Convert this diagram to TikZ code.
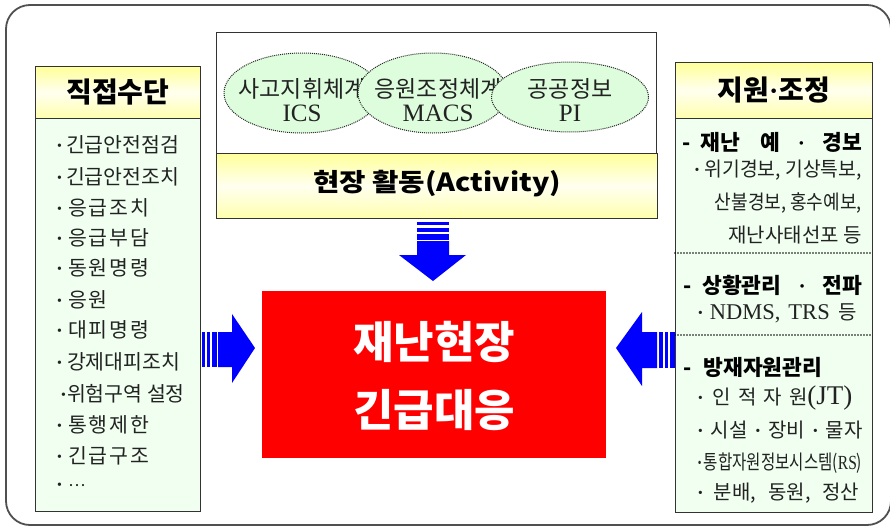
\documentclass[tikz,border=0pt]{standalone}
\usepackage{fontspec}
\usepackage{graphicx}
\setmainfont{Liberation Serif}
\newfontfamily\kr{Noto Sans CJK KR}
\usetikzlibrary{shapes.geometric}
\definecolor{framegray}{HTML}{505050}
\definecolor{honey}{HTML}{F0FFF0}
\definecolor{ellfill}{HTML}{DDFDDD}
\definecolor{titley}{HTML}{FFFF99}
\definecolor{arrowblue}{HTML}{0000FF}
\definecolor{redbox}{HTML}{FF0000}
\definecolor{ink}{HTML}{222222}
\newcommand{\fitx}[2]{\resizebox{#1}{\height}{#2}}
\newcommand{\bul}{{\rmfamily\bfseries ·}}
\begin{document}
\begin{tikzpicture}[x=1pt,y=-1pt,
  boxline/.style={draw=black!80, line width=0.8pt},
  titlebox/.style={boxline, top color=titley, bottom color=titley!80, middle color=titley!15, inner sep=0pt},
  listbox/.style={boxline, fill=honey, inner sep=0pt},
  ellbox/.style={ellipse, draw=black!85, densely dotted, line width=1pt, fill=ellfill, inner sep=0pt},
  elltext/.style={align=center, font=\kr\fontsize{23}{24}\selectfont, text=ink, inner sep=0pt},
  titletext/.style={font=\kr\bfseries\fontsize{28}{30}\selectfont, text=black},
  litem/.style={anchor=west, inner sep=0pt, font=\kr\fontsize{20.5}{24}\selectfont, text=ink},
  ritem/.style={inner sep=0pt, font=\kr\fontsize{20}{24}\selectfont, text=ink},
  rhead/.style={anchor=west, inner sep=0pt, font=\kr\bfseries\fontsize{21.5}{24}\selectfont, text=black},
  sepline/.style={line width=1.6pt, dash pattern=on 0pt off 3pt, line cap=round, draw=black},
  blockarrow/.style={fill=arrowblue, draw=none}
]
\useasboundingbox (0,0) rectangle (890,528);
\fill[white] (0,0) rectangle (890,528);
% outer frame
\draw[line width=1.8pt, draw=framegray, rounded corners=24] (6,5) rectangle (891,525);

% left column
\node[titlebox, anchor=north west, minimum width=165, minimum height=52] (ltitle) at (35,66) {};
\node[titletext] at (ltitle.center) {직접수단};
\node[listbox, anchor=north west, minimum width=165, minimum height=393] (llist) at (35,118) {};
\node[litem] (l1) at (56,145) {\bul\hspace{3pt}긴급안전점검};
\node[litem] (l2) at (56,177) {\bul\hspace{3pt}긴급안전조치};
\node[litem] (l3) at (56,208) {\bul\hspace{5pt}응\hspace{2pt}급\hspace{2pt}조\hspace{2pt}치};
\node[litem] (l4) at (56,238) {\bul\hspace{5pt}응\hspace{2pt}급\hspace{2pt}부\hspace{2pt}담};
\node[litem] (l5) at (56,268) {\bul\hspace{5pt}동\hspace{2pt}원\hspace{2pt}명\hspace{2pt}령};
\node[litem] (l6) at (56,300) {\bul\hspace{5pt}응\hspace{2pt}원};
\node[litem] (l7) at (56,330) {\bul\hspace{5pt}대\hspace{2pt}피\hspace{2pt}명\hspace{2pt}령};
\node[litem] (l8) at (56,362) {\bul\hspace{4pt}강제대피조치};
\node[litem] (l9) at (60,394) {\bul 위험구역 설정};
\node[litem] (l10) at (56,425) {\bul\hspace{5pt}통\hspace{2pt}행\hspace{2pt}제\hspace{2pt}한};
\node[litem] (l11) at (56,456) {\bul\hspace{5pt}긴\hspace{2pt}급\hspace{2pt}구\hspace{2pt}조};
\node[litem] (l12) at (56,487) {\bul\hspace{5pt}{\rmfamily\fontsize{18}{18}\selectfont\textperiodcentered\textperiodcentered\textperiodcentered}};

% top centre box
\node[boxline, fill=white, anchor=north west, minimum width=440, minimum height=121, inner sep=0pt] (topbox) at (216,32) {};
\node[ellbox, minimum width=156, minimum height=80] (e1) at (302,93) {};
\node[elltext] (t1) at (302,100) {사고지휘체계\\{\rmfamily\fontsize{25}{24}\selectfont ICS}};
\node[ellbox, minimum width=150, minimum height=80] (e2) at (433,93) {};
\node[elltext] (t2) at (438,100) {응원조정체계\\{\rmfamily\fontsize{25}{24}\selectfont MACS}};
\node[ellbox, minimum width=157, minimum height=70] (e3) at (570,97) {};
\node[elltext] (t3) at (570,100) {공공정보\\{\rmfamily\fontsize{25}{24}\selectfont PI}};
\node[titlebox, anchor=north west, minimum width=441, minimum height=65] (act) at (216,153) {};
\node[font=\kr\bfseries\fontsize{25}{26}\selectfont, text=black] (acttext) at (437,184) {\fitx{248pt}{현장 활동(Activity)}};

% red core
\node[fill=redbox, anchor=north west, minimum width=344, minimum height=167, inner sep=0pt] (core) at (262,291) {};
\node[align=center, text=white, font=\kr\bfseries\fontsize{44}{68}\selectfont] (coretext) at (434,376) {재난현장\\긴급대응};

% right column
\node[titlebox, anchor=north west, minimum width=197, minimum height=56] (rtitle) at (675,62) {};
\node[titletext] at (rtitle.center) {지원{\rmfamily\bfseries ·}조정};
\node[listbox, anchor=north west, minimum width=197, minimum height=394] (rlist) at (675,118) {};
\node[rhead] (r1) at (682,142) {-\hspace{10pt}재난\hspace{20pt}예\hspace{18pt}{\rmfamily\bfseries ·}\hspace{18pt}경보};
\node[ritem, anchor=east] (r2) at (862,170) {\fitx{168pt}{\bul\ 위기경보, 기상특보,}};
\node[ritem, anchor=east] (r3) at (862,203) {\fitx{147pt}{산불경보, 홍수예보,}};
\node[ritem, anchor=east] (r4) at (862,235) {재난사태선포 등};
\draw[sepline] (rlist.west |- 0,253) -- (rlist.east |- 0,253);
\node[rhead] (r5) at (683,285) {-\hspace{11pt}상황관리\hspace{17pt}{\rmfamily\bfseries ·}\hspace{17pt}전파};
\node[ritem, anchor=west] (r6) at (697,313) {\bul\hspace{6pt}{\rmfamily\fontsize{22.5}{24}\selectfont NDMS,\hspace{8pt}TRS}\hspace{9pt}등};
\draw[sepline] (rlist.west |- 0,335) -- (rlist.east |- 0,335);
\node[rhead] (r7) at (683,367) {-\hspace{12pt}방재자원관리};
\node[ritem, anchor=west] (r8) at (697,398) {\bul\hspace{9pt}인\hspace{7pt}적\hspace{7pt}자\hspace{7pt}원{\rmfamily\fontsize{27}{24}\selectfont (JT)}};
\node[ritem, anchor=west] (r9) at (697,430) {\bul\hspace{7pt}시설\hspace{7pt}\bul\hspace{7pt}장비\hspace{7pt}\bul\hspace{7pt}물자};
\node[ritem, anchor=west] (r10) at (697,463) {\fitx{165pt}{\bul\hspace{2pt}통합자원정보시스템({\rmfamily RS})}};
\node[ritem, anchor=west] (r11) at (697,493) {\bul\hspace{10pt}분배,\hspace{12pt}동원,\hspace{12pt}정산};

% down arrow (activity -> core)
\fill[blockarrow] (417,222) rectangle (449,225);
\fill[blockarrow] (417,228) rectangle (449,231.5);
\fill[blockarrow] (417,234) rectangle (449,239.5);
\fill[blockarrow] (417,241) -- (449,241) -- (449,255) -- (466,255) -- (433,281) -- (399,255) -- (417,255) -- cycle;

% left arrow (left list -> core)
\fill[blockarrow] (202,332) rectangle (205,367);
\fill[blockarrow] (207,332) rectangle (210,367);
\fill[blockarrow] (212,332) rectangle (217,367);
\fill[blockarrow] (218,332) -- (232,332) -- (232,314) -- (255,348) -- (232,383) -- (232,367) -- (218,367) -- cycle;

% right arrow (right list -> core)
\fill[blockarrow] (616,348) -- (642,312) -- (642,332) -- (657,332) -- (657,368) -- (642,368) -- (642,386) -- cycle;
\fill[blockarrow] (658.5,332) rectangle (663,368);
\fill[blockarrow] (665,332) rectangle (668,368);
\fill[blockarrow] (670,332) rectangle (675,368);
\end{tikzpicture}
\end{document}
